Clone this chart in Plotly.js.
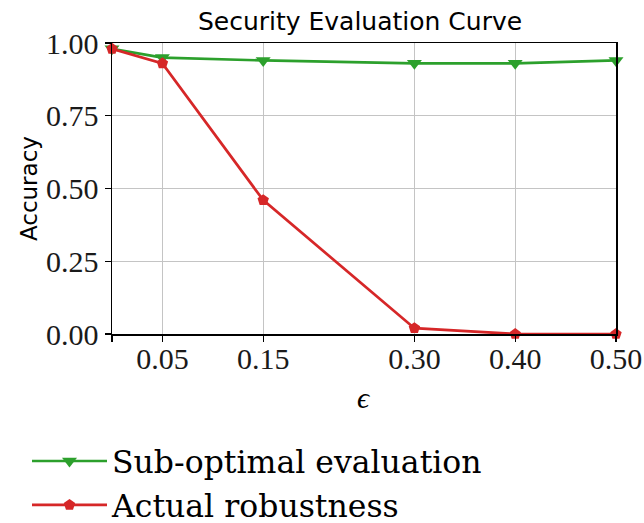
<!DOCTYPE html>
<html><head><meta charset="utf-8">
<script src="https://cdn.plot.ly/plotly-3.0.1.min.js"></script>
<style>html,body{margin:0;padding:0;background:#fff}#chart{width:644px;height:523px}</style>
</head><body><div id="chart"></div>
<script>
var epsilon = [0.0, 0.05, 0.15, 0.30, 0.40, 0.50];
var subOptimal = [0.98, 0.95, 0.94, 0.93, 0.93, 0.94];
var actualRobust = [0.98, 0.93, 0.46, 0.02, 0.0, 0.0];
var xTickVals = [0.0, 0.05, 0.15, 0.30, 0.40, 0.50];
var xTickText = ['', '0.05', '0.15', '0.30', '0.40', '0.50'];
var yTickVals = [0, 0.25, 0.5, 0.75, 1.0];
var yTickText = ['0.00', '0.25', '0.50', '0.75', '1.00'];

var serif = 'Liberation Serif, serif';
var traces = [
  {x: epsilon, y: subOptimal, name: 'Sub-optimal evaluation', mode: 'lines+markers',
   line: {color: '#2ca02c', width: 2.7}, marker: {symbol: 'triangle-down', size: 13, color: '#2ca02c'}, cliponaxis: false},
  {x: epsilon, y: actualRobust, name: 'Actual robustness', mode: 'lines+markers',
   line: {color: '#d62728', width: 2.7}, marker: {symbol: 'pentagon', size: 12, color: '#d62728'}, cliponaxis: false}
];
var layout = {
  width: 644, height: 523,
  margin: {l: 111.5, r: 28, t: 43, b: 188.5, autoexpand: false},
  paper_bgcolor: '#fff', plot_bgcolor: '#fff',
  title: {text: 'Security Evaluation Curve', font: {family: 'DejaVu Sans', size: 25, color: '#000'},
          xref: 'container', x: 360 / 644, xanchor: 'center', yref: 'container', y: 1 - 21 / 523, yanchor: 'middle'},
  xaxis: {range: [0, 0.5], tickvals: xTickVals, ticktext: xTickText, tickangle: 0, automargin: false,
          showgrid: true, gridcolor: '#c4c4c4', gridwidth: 1.2,
          showline: true, linecolor: '#000', linewidth: 1.5, mirror: true,
          ticks: 'outside', ticklen: 6, tickwidth: 1.3, tickcolor: '#000', ticklabelstandoff: -9,
          tickfont: {family: serif, size: 30, color: '#1a1a1a'}, zeroline: false},
  yaxis: {range: [0, 1], tickvals: yTickVals, ticktext: yTickText, automargin: false,
          showgrid: true, gridcolor: '#c4c4c4', gridwidth: 1.2,
          showline: true, linecolor: '#000', linewidth: 1.5, mirror: true,
          ticks: 'outside', ticklen: 6, tickwidth: 1.3, tickcolor: '#000',
          tickfont: {family: serif, size: 30, color: '#1a1a1a'}, zeroline: false},
  annotations: [
    {text: 'Accuracy', xref: 'paper', yref: 'paper', x: -0.1655, y: 0.5, xanchor: 'center', yanchor: 'middle',
     textangle: -90, showarrow: false, font: {family: 'DejaVu Sans', size: 23, color: '#000'}},
    {text: '<i>ϵ</i>', xref: 'paper', yref: 'paper', x: 0.5, y: -0.218, xanchor: 'center', yanchor: 'middle',
     showarrow: false, font: {family: serif, size: 30, color: '#000'}}
  ],
  showlegend: true,
  legend: {xref: 'container', yref: 'container', x: 27 / 644, y: 1 - 434 / 523, xanchor: 'left', yanchor: 'top',
           font: {family: 'DejaVu Serif, serif', size: 31.5, color: '#000'},
           bgcolor: 'rgba(0,0,0,0)', itemwidth: 75, tracegroupgap: 0}
};
Plotly.newPlot('chart', traces, layout, {staticPlot: true});
</script></body></html>
